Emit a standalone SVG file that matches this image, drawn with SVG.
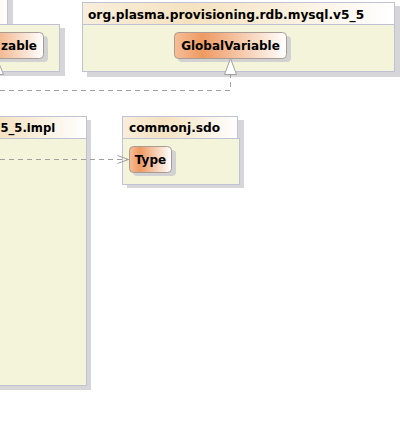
<svg xmlns="http://www.w3.org/2000/svg" width="401" height="428" viewBox="0 0 401 428">
<defs>
<linearGradient id="hdr" x1="0" y1="0" x2="1" y2="0">
<stop offset="0" stop-color="#F8EEDC"/>
<stop offset="0.35" stop-color="#F5E2C0"/>
<stop offset="1" stop-color="#FFFFFF"/>
</linearGradient>
<linearGradient id="cls" x1="0" y1="0" x2="1" y2="0">
<stop offset="0" stop-color="#F6BE98"/>
<stop offset="0.25" stop-color="#EE9A62"/>
<stop offset="1" stop-color="#FFFFFF"/>
</linearGradient>
<marker id="open" markerWidth="14" markerHeight="10" refX="12" refY="5" orient="auto" markerUnits="userSpaceOnUse">
<path d="M1,1 L12,5 L1,9" fill="none" stroke="#A0A0A0" stroke-width="1"/>
</marker>
</defs>
<style>
.shadow{fill:#D6D6D8;}
.body{fill:#F4F4DB;stroke:#C0C3D6;stroke-width:1;}
.tab{fill:url(#hdr);stroke:#C0C3D6;stroke-width:1;}
.ptitle{font-family:"DejaVu Sans",Verdana,sans-serif;font-weight:bold;font-size:12.2px;fill:#000;}
.node{fill:url(#cls);stroke:#A89C94;stroke-width:1;}
.nshadow{fill:#D2D2D2;}
.ntext{font-family:"DejaVu Sans",Verdana,sans-serif;font-weight:bold;font-size:12px;fill:#000;text-anchor:middle;}
.dash{fill:none;stroke:#A0A0A0;stroke-width:1;stroke-dasharray:5,4;}
</style>
<rect width="401" height="428" fill="#FFFFFF"/>

<g id="pkg-topleft">
<rect class="shadow" x="-196" y="28" width="261" height="48"/>
<rect class="shadow" x="-46" y="-6" width="59" height="32"/>
<rect class="body" x="-200.5" y="24.5" width="260" height="47"/>
<rect class="tab" x="-50.5" y="-10.5" width="58" height="35"/>
</g>

<g id="pkg-mysql">
<rect class="shadow" x="87" y="6" width="313" height="71"/>
<rect class="body" x="82.5" y="24.5" width="312" height="47"/>
<rect class="tab" x="82.5" y="2.5" width="312" height="22"/>
<text class="ptitle" x="88" y="19">org.plasma.provisioning.rdb.mysql.v5_5</text>
</g>

<g id="pkg-impl">
<rect class="shadow" x="-45" y="120" width="136" height="270"/>
<rect class="body" x="-50.5" y="138.5" width="137" height="247"/>
<rect class="tab" x="-50.5" y="116.5" width="137" height="22"/>
<text class="ptitle" x="0.5" y="132" font-size="11.6px" style="font-size:11.6px">5_5.impl</text>
</g>

<g id="pkg-sdo">
<rect class="shadow" x="127" y="120" width="117" height="68"/>
<rect class="body" x="122.5" y="138.5" width="117" height="46"/>
<rect class="tab" x="122.5" y="116.5" width="115" height="22"/>
<text class="ptitle" x="129" y="132">commonj.sdo</text>
</g>

<g id="node-zable">
<rect class="nshadow" x="-36" y="36" width="84" height="26" rx="4"/>
<rect class="node" x="-40.5" y="32.5" width="84" height="26" rx="4"/>
<text class="ntext" x="37" y="50" style="text-anchor:end">zable</text>
</g>

<g id="node-globalvariable">
<rect class="nshadow" x="178" y="36" width="113" height="26" rx="4"/>
<rect class="node" x="174.5" y="32.5" width="112" height="26" rx="4"/>
<text class="ntext" x="230.5" y="50">GlobalVariable</text>
</g>

<g id="node-type">
<rect class="nshadow" x="133" y="150" width="43" height="26" rx="4"/>
<rect class="node" x="129.5" y="146.5" width="42" height="26" rx="4"/>
<text class="ntext" x="150.5" y="163.5">Type</text>
</g>

<g id="connectors">
<path class="dash" d="M0,90.5 L230.5,90.5 L230.5,74"/>
<path d="M230.5,58.5 L224.5,74.5 L236.5,74.5 Z" fill="#FFFFFF" stroke="#A0A0A0" stroke-width="1"/>
<path d="M-3,58.5 L-9,74.5 L3.5,74.5 Z" fill="#FFFFFF" stroke="#A0A0A0" stroke-width="1"/>
<path class="dash" d="M0,159.5 L128.5,159.5" marker-end="url(#open)"/>
</g>
</svg>
